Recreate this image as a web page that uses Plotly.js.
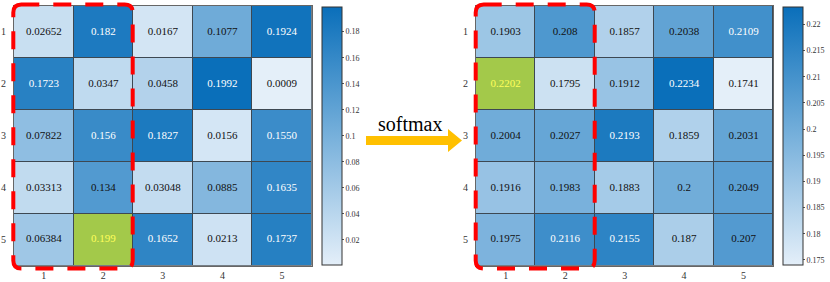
<!DOCTYPE html>
<html>
<head>
<meta charset="utf-8">
<script src="https://cdn.plot.ly/plotly-3.0.1.min.js"></script>
<style>html,body{margin:0;padding:0;background:#fff;}#chart{width:830px;height:282px;}</style>
</head>
<body>
<div id="chart"></div>
<script>
// ---- data ----
const rowLabels = ['1', '2', '3', '4', '5'];
const colLabels = ['1', '2', '3', '4', '5'];
const leftValues = [
  ['0.02652', '0.182', '0.0167', '0.1077', '0.1924'],
  ['0.1723', '0.0347', '0.0458', '0.1992', '0.0009'],
  ['0.07822', '0.156', '0.1827', '0.0156', '0.1550'],
  ['0.03313', '0.134', '0.03048', '0.0885', '0.1635'],
  ['0.06384', '0.199', '0.1652', '0.0213', '0.1737']
];
const rightValues = [
  ['0.1903', '0.208', '0.1857', '0.2038', '0.2109'],
  ['0.2202', '0.1795', '0.1912', '0.2234', '0.1741'],
  ['0.2004', '0.2027', '0.2193', '0.1859', '0.2031'],
  ['0.1916', '0.1983', '0.1883', '0.2', '0.2049'],
  ['0.1975', '0.2116', '0.2155', '0.187', '0.207']
];
const leftHighlight = {row: 5, col: 2};
const rightHighlight = {row: 2, col: 1};
const leftTicks = [0.02, 0.04, 0.06, 0.08, 0.1, 0.12, 0.14, 0.16, 0.18];
const leftTickText = ['0.02', '0.04', '0.06', '0.08', '0.1', '0.12', '0.14', '0.16', '0.18'];
const rightTicks = [0.175, 0.18, 0.185, 0.19, 0.195, 0.2, 0.205, 0.21, 0.215, 0.22];
const rightTickText = ['0.175', '0.18', '0.185', '0.19', '0.195', '0.2', '0.205', '0.21', '0.215', '0.22'];
const arrowLabel = 'softmax';

// ---- style ----
const W = 830, H = 282;
const FONT = 'Liberation Serif, Times New Roman, serif';
const blues = [[0, '#e4eff9'], [0.5, '#77b0db'], [1, '#0a6fba']];
const green = '#a3c94a';
const X = px => px / W;
const Y = py => 1 - py / H;

const xs = colLabels.map(Number), ys = rowLabels.map(Number);

function build(values, hl, xa, ya, cbX, tv, tt) {
  const z = values.map(r => r.map(Number));
  const flat = z.flat();
  const mn = Math.min(...flat), mx = Math.max(...flat);
  const hm = {
    type: 'heatmap', x: xs, y: ys, z: z, xaxis: xa, yaxis: ya,
    colorscale: blues, zmin: mn, zmax: mx, xgap: 1, ygap: 1, hoverinfo: 'skip',
    colorbar: {
      x: X(cbX), xanchor: 'left', xpad: 0, ypad: 0,
      y: Y(6.7), yanchor: 'top', len: 258, lenmode: 'pixels',
      thickness: 20, thicknessmode: 'pixels',
      outlinewidth: 1, outlinecolor: '#333',
      tickvals: tv, ticktext: tt, ticks: 'outside', ticklen: 2, tickcolor: '#555',
      tickfont: {family: FONT, size: 8, color: '#333'}
    }
  };
  const hz = z.map((r, i) => r.map((v, j) => (i + 1 === hl.row && j + 1 === hl.col) ? 1 : null));
  const hlTrace = {
    type: 'heatmap', x: xs, y: ys, z: hz, xaxis: xa, yaxis: ya,
    colorscale: [[0, green], [1, green]], zmin: 0, zmax: 1, showscale: false,
    xgap: 1, ygap: 1, hoverinfo: 'skip'
  };
  const tx = [], ty = [], tt2 = [], tc = [];
  values.forEach((r, i) => r.forEach((s, j) => {
    tx.push(xs[j]); ty.push(ys[i]); tt2.push(s);
    const v = Number(s);
    if (i + 1 === hl.row && j + 1 === hl.col) tc.push('#ffff5a');
    else tc.push((v - mn) / (mx - mn) > 0.7 ? '#ffffff' : '#111111');
  }));
  const txt = {
    type: 'scatter', mode: 'text', x: tx, y: ty, text: tt2, xaxis: xa, yaxis: ya,
    textfont: {family: FONT, size: 11, color: tc}, hoverinfo: 'skip', showlegend: false
  };
  return [hm, hlTrace, txt];
}

const data = [
  ...build(leftValues, leftHighlight, 'x', 'y', 321.7, leftTicks, leftTickText),
  ...build(rightValues, rightHighlight, 'x2', 'y2', 783.3, rightTicks, rightTickText)
];

function axis(domain, isY, anchor) {
  return {
    domain: domain, anchor: anchor,
    range: isY ? [5.5, 0.5] : [0.5, 5.5],
    tickvals: isY ? ys : xs, ticktext: isY ? rowLabels : colLabels,
    ticks: '', ticklabelstandoff: isY ? 5 : 0,
    showgrid: false, zeroline: false,
    showline: true, mirror: true, linecolor: '#666', linewidth: 1,
    tickfont: {family: FONT, size: 10, color: '#333'},
    fixedrange: true
  };
}

function roundRect(x0, y0, x1, y1, r) {
  const rx = r / W, ry = r / H;
  const a = X(x0), b = X(x1), c = Y(y0), d = Y(y1);
  return `M ${a + rx},${c} L ${b - rx},${c} Q ${b},${c} ${b},${c - ry} ` +
    `L ${b},${d + ry} Q ${b},${d} ${b - rx},${d} L ${a + rx},${d} Q ${a},${d} ${a},${d + ry} ` +
    `L ${a},${c - ry} Q ${a},${c} ${a + rx},${c} Z`;
}

const arrowPath = `M ${X(366)},${Y(136)} L ${X(448)},${Y(136)} L ${X(448)},${Y(129)} L ${X(462)},${Y(140.5)} ` +
  `L ${X(448)},${Y(152)} L ${X(448)},${Y(145)} L ${X(366)},${Y(145)} Z`;

const layout = {
  width: W, height: H,
  margin: {l: 0, r: 0, t: 0, b: 0},
  paper_bgcolor: '#ffffff', plot_bgcolor: '#3d4852',
  showlegend: false,
  xaxis: axis([X(14), X(311.7)], false, 'y'),
  yaxis: axis([Y(265.7), Y(6)], true, 'x'),
  xaxis2: axis([X(476), X(773.3)], false, 'y2'),
  yaxis2: axis([Y(265.7), Y(6)], true, 'x2'),
  shapes: [
    {type: 'path', xref: 'paper', yref: 'paper', path: roundRect(13.3, 4.5, 132.7, 268.5, 8),
      line: {color: '#ff0000', width: 4, dash: '18px,14px'}, layer: 'above'},
    {type: 'path', xref: 'paper', yref: 'paper', path: roundRect(475.7, 4.5, 594.7, 268.5, 8),
      line: {color: '#ff0000', width: 4, dash: '18px,14px'}, layer: 'above'},
    {type: 'path', xref: 'paper', yref: 'paper', path: arrowPath,
      fillcolor: '#ffc000', line: {width: 0}, layer: 'above'}
  ],
  annotations: [
    {xref: 'paper', yref: 'paper', x: X(410), y: Y(124), xanchor: 'center', yanchor: 'middle',
      text: arrowLabel, showarrow: false, font: {family: FONT, size: 20, color: '#000'}}
  ]
};

Plotly.newPlot('chart', data, layout, {displayModeBar: false, staticPlot: true});
</script>
</body>
</html>
